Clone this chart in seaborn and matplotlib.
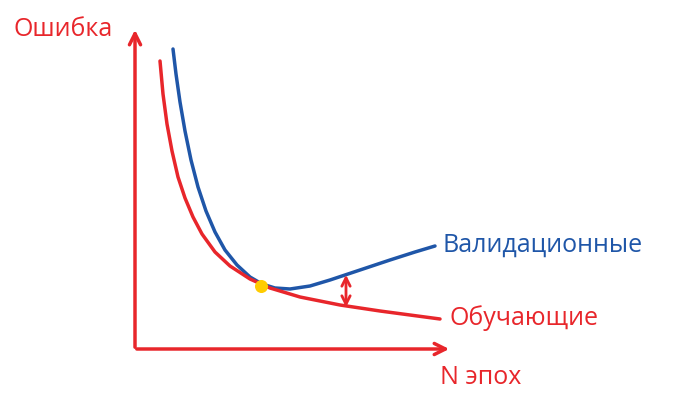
import matplotlib
matplotlib.use("Agg")
import matplotlib.pyplot as plt
import seaborn as sns
import pandas as pd

# points (pixel-like units, y grows downward)
train_x = [160, 163, 167, 172, 178, 185, 193, 202, 215, 230, 250, 270, 300, 340, 380, 440]
train_y = [62, 95, 125, 152, 178, 199, 218, 235, 253, 267, 280, 289, 298, 306, 312, 320]
val_x = [173, 176, 180, 185, 191, 198, 206, 215, 225, 237, 250, 262, 275, 290, 310, 330, 360, 390, 415, 435]
val_y = [50, 75, 103, 132, 161, 188, 212, 233, 251, 266, 278, 285, 289, 290, 287, 281, 271, 261, 253, 247]
best_point = (261, 287)
gap_x, gap_top, gap_bottom = 346, 273, 311

red = "#e8262b"
blue = "#1f56a8"

sns.set_style("white")
plt.rcParams['font.family'] = ['Open Sans', 'DejaVu Sans']

fig = plt.figure(figsize=(6.94, 4.10), dpi=100)
ax = fig.add_axes([0, 0, 1, 1])
ax.set_xlim(0, 694)
ax.set_ylim(410, 0)
ax.axis("off")

sns.lineplot(data=pd.DataFrame({"x": val_x, "y": val_y}), x="x", y="y",
             color=blue, lw=2.5, sort=False, ax=ax, solid_joinstyle="round")
sns.lineplot(data=pd.DataFrame({"x": train_x, "y": train_y}), x="x", y="y",
             color=red, lw=2.5, sort=False, ax=ax, solid_joinstyle="round")
ax.scatter([best_point[0]], [best_point[1]], s=70, color="#ffcc00", zorder=5)

# axes arrows
ax.annotate("", xy=(135, 28), xytext=(135, 351),
            arrowprops=dict(arrowstyle="->", color=red, lw=2.5, mutation_scale=20))
ax.annotate("", xy=(452, 350), xytext=(134, 350),
            arrowprops=dict(arrowstyle="->", color=red, lw=2.5, mutation_scale=20))
ax.annotate("", xy=(gap_x, gap_top), xytext=(gap_x, gap_bottom),
            arrowprops=dict(arrowstyle="<->", color=red, lw=2, mutation_scale=15))

ax.text(14, 30, "Ошибка", color=red, fontsize=18, va="center")
ax.text(440, 378, "N эпох", color=red, fontsize=18, va="center")
ax.text(443, 245, "Валидационные", color=blue, fontsize=18, va="center")
ax.text(450, 318, "Обучающие", color=red, fontsize=18, va="center")

fig.savefig("out.png", dpi=100)
